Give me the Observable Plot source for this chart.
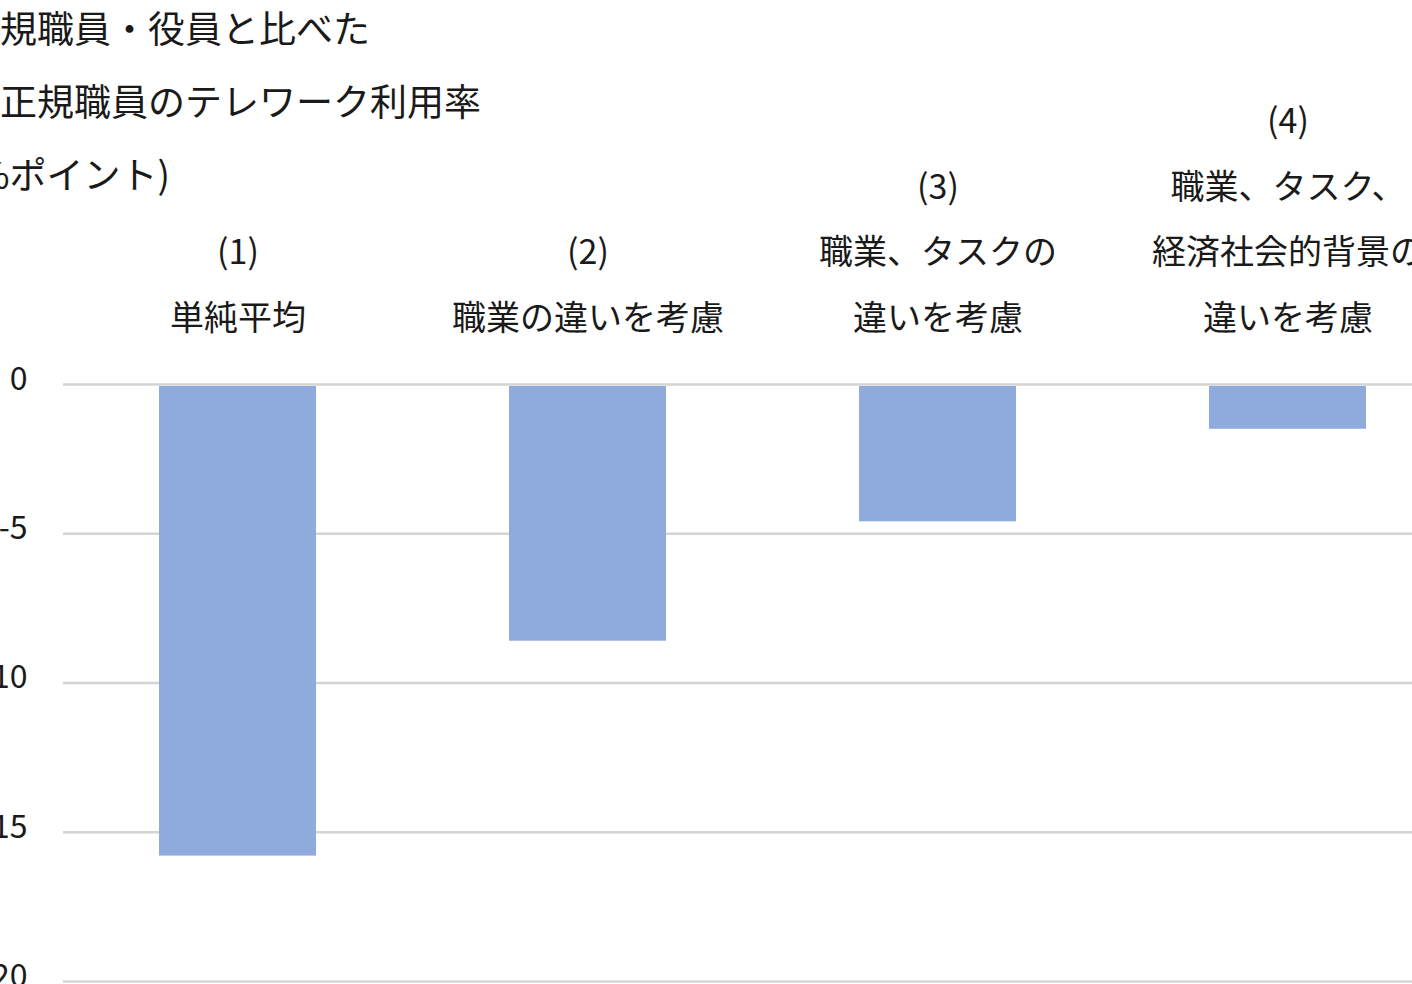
<!DOCTYPE html>
<html>
<head>
<meta charset="utf-8">
<script src="https://cdn.jsdelivr.net/npm/d3@7"></script>
<script src="https://cdn.jsdelivr.net/npm/@observablehq/plot@0.6"></script>
<style>
  html, body { margin: 0; padding: 0; background: #fff; overflow: hidden; width: 1412px; height: 984px; }
  #wrap { position: relative; width: 1412px; height: 984px; overflow: hidden; }
  #title { position: absolute; left: -37px; top: -9px; font-family: "Noto Sans CJK JP", sans-serif; font-size: 37px; line-height: 73px; color: #1a1a1a; white-space: nowrap; z-index: 2; }
  #chart { position: absolute; left: 0; top: 0; width: 1463px; }
  #chart svg { max-width: none !important; }
</style>
</head>
<body>
<div id="wrap">
  <div id="title"></div>
  <div id="chart"></div>
</div>
<script>
const titleLines = ["正規職員・役員と比べた", "非正規職員のテレワーク利用率", "(%ポイント)"];
const categories = [
  "(1)\n単純平均",
  "(2)\n職業の違いを考慮",
  "(3)\n職業、タスクの\n違いを考慮",
  "(4)\n職業、タスク、\n経済社会的背景の\n違いを考慮"
];
const values = [-15.8, -8.6, -4.6, -1.5];
const yTicks = [0, -5, -10, -15, -20];

document.getElementById("title").innerHTML = titleLines.map(t => `<div>${t}</div>`).join("");

const data = categories.map((c, i) => ({category: c, value: values[i]}));

const chart = Plot.plot({
  width: 1463,
  height: 1000,
  marginLeft: 63,
  marginRight: 0,
  marginTop: 384,
  marginBottom: 19,
  style: {fontFamily: "'Noto Sans CJK JP', sans-serif", color: "#1a1a1a", background: "transparent", maxWidth: "none"},
  x: {domain: categories, paddingInner: 0.55, paddingOuter: 0.275},
  y: {domain: [-20, 0]},
  marks: [
    Plot.gridY(yTicks, {stroke: "#d4d4d4", strokeOpacity: 1, strokeWidth: 2.5}),
    Plot.barY(data, {x: "category", y: "value", fill: "#8FAADC", insetTop: 2}),
    Plot.axisY(yTicks, {tickSize: 0, tickPadding: 36, fontSize: 32, dy: -5, tickFormat: d => String(d), label: null}),
    Plot.axisX({anchor: "top", tickSize: 0, tickPadding: 55, fontSize: 34, lineHeight: 65.5 / 34, label: null})
  ]
});
chart.style.maxWidth = "none";
document.getElementById("chart").appendChild(chart);
</script>
</body>
</html>
